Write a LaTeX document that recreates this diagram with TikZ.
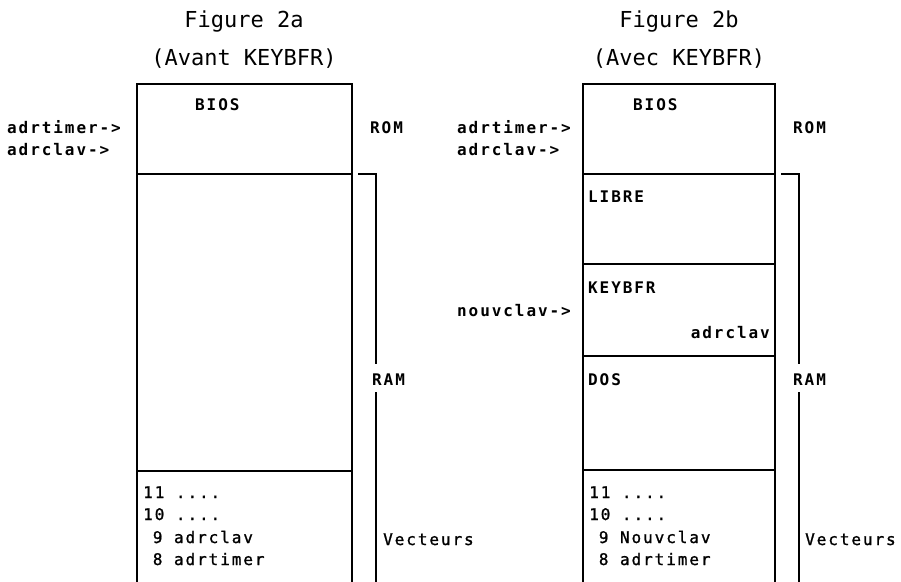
\documentclass[tikz,border=0pt]{standalone}
\usepackage{fontspec}
\newfontfamily\titlefont{DejaVu Sans Mono}
\newfontfamily\labelfont[LetterSpace=12]{DejaVu Sans Mono}
\newfontfamily\vecfont[LetterSpace=12,FakeBold=1.2]{DejaVu Sans Mono}
\begin{document}
\begin{tikzpicture}[x=1pt, y=-1pt,
        mem/.style={line width=1.2pt, line cap=rect},
        lbl/.style={anchor=base west, inner sep=0pt, font=\fontsize{16}{22}\labelfont\bfseries},
        vec/.style={anchor=base west, inner sep=0pt, font=\fontsize{16}{22}\vecfont},
        titre/.style={anchor=base, inner sep=0pt, font=\fontsize{22}{26}\titlefont}
    ]
        \useasboundingbox (0,0) rectangle (901,581);

        % Figure 2a
        \node[titre] (tA1) at (244,27) {Figure 2a};
        \node[titre] (tA2) at (244,65) {(Avant KEYBFR)};
        \draw[mem] (137,581) -- (137,84) -- (352,84) -- (352,581);
        \draw[mem] (137,174) -- (352,174);
        \draw[mem] (137,471) -- (352,471);
        \draw[mem] (359,174) -| (376,363);
        \draw[mem] (376,393) -- (376,581);
        \node[lbl] (biosA) at (195,110) {BIOS};
        \node[lbl] (romA) at (370,133) {ROM};
        \node[lbl] (ramA) at (372,385) {RAM};
        \node[lbl] (timerA) at (7,133) {adrtimer->};
        \node[lbl] (clavA) at (7,155) {adrclav->};
        \node[vec] (vA11) at (143,498) {11 ....};
        \node[vec] (vA10) at (143,520) {10 ....};
        \node[vec] (vA9) at (143,543) {\hphantom{1}9 adrclav};
        \node[vec] (vA8) at (143,565) {\hphantom{1}8 adrtimer};
        \node[vec] (vecA) at (383,545) {Vecteurs};

        % Figure 2b
        \node[titre] (tB1) at (679,27) {Figure 2b};
        \node[titre] (tB2) at (679,65) {(Avec KEYBFR)};
        \draw[mem] (583,581) -- (583,84) -- (775,84) -- (775,581);
        \foreach \y in {174,264,356,470}
            \draw[mem] (583,\y) -- (775,\y);
        \draw[mem] (782,174) -| (799,363);
        \draw[mem] (799,393) -- (799,581);
        \node[lbl] (biosB) at (633,110) {BIOS};
        \node[lbl] (romB) at (793,133) {ROM};
        \node[lbl] (ramB) at (793,385) {RAM};
        \node[lbl] (timerB) at (457,133) {adrtimer->};
        \node[lbl] (clavB) at (457,155) {adrclav->};
        \node[lbl] (libre) at (588,202) {LIBRE};
        \node[lbl] (keybfr) at (588,293) {KEYBFR};
        \node[lbl] (nouv) at (457,316) {nouvclav->};
        \node[lbl, anchor=base east] (clavK) at (770,338) {adrclav};
        \node[lbl] (dos) at (588,385) {DOS};
        \node[vec] (vB11) at (589,498) {11 ....};
        \node[vec] (vB10) at (589,520) {10 ....};
        \node[vec] (vB9) at (589,543) {\hphantom{1}9 Nouvclav};
        \node[vec] (vB8) at (589,565) {\hphantom{1}8 adrtimer};
        \node[vec] (vecB) at (805,545) {Vecteurs};
    \end{tikzpicture}
\end{document}
